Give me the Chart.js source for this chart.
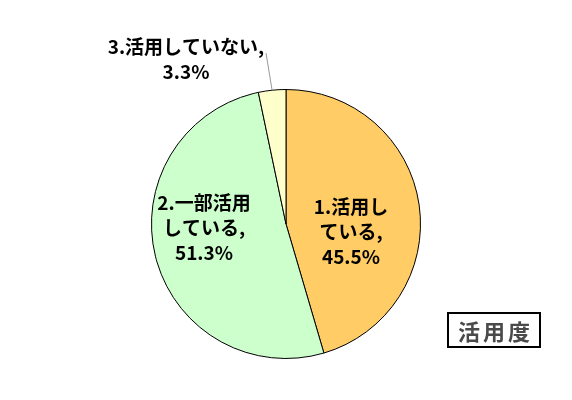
<!DOCTYPE html>
<html>
<head>
<meta charset="utf-8">
<script src="https://cdn.jsdelivr.net/npm/chart.js@4"></script>
<style>
  html, body { margin: 0; padding: 0; background: #fff; }
  #wrap { position: relative; width: 572px; height: 400px; }
  #title {
    position: absolute; left: 447px; top: 312px; width: 90px; height: 32px;
    border: 2px solid #000; box-sizing: content-box;
    font: bold 22px "Noto Sans CJK JP", sans-serif; color: #4a4a4a;
    letter-spacing: 3px; text-indent: 3px;
    text-align: center; line-height: 32px;
  }
</style>
</head>
<body>
<div id="wrap">
  <canvas id="usageChart" width="572" height="400"></canvas>
  <div id="title">活用度</div>
</div>
<script>
const labels = ['1.活用している', '2.一部活用している', '3.活用していない'];
const values = [45.5, 51.3, 3.3];
const colors = ['#ffcc66', '#ccffcc', '#ffffcc'];

// label text lines per slice (as shown in the picture)
const labelLines = [
    ['1.活用し', 'ている,', '45.5%'],
    ['2.一部活用', 'している,', '51.3%'],
    ['3.活用していない,', '3.3%'],
];

// where each label sits, relative to the pie centre
const labelSpots = [
    { dx: 65, dy: -17 },
    { dx: -82, dy: -21 },
    { dx: -100, dy: -177, leader: true },
];

const sliceLabels = {
    id: 'sliceLabels',
    afterDatasetsDraw(chart) {
        const ctx = chart.ctx;
        const meta = chart.getDatasetMeta(0);
        ctx.save();
        ctx.font = 'bold 19px "Noto Sans CJK JP", sans-serif';
        ctx.fillStyle = '#000';
        ctx.textAlign = 'center';
        ctx.textBaseline = 'middle';
        meta.data.forEach((arc, i) => {
            const spot = labelSpots[i];
            const x = arc.x + spot.dx;
            const y = arc.y + spot.dy;
            if (spot.leader) {
                const mid = (arc.startAngle + arc.endAngle) / 2;
                ctx.strokeStyle = '#999';
                ctx.lineWidth = 1;
                ctx.beginPath();
                ctx.moveTo(arc.x + Math.cos(mid) * arc.outerRadius, arc.y + Math.sin(mid) * arc.outerRadius);
                ctx.lineTo(x + 80, y + 6);
                ctx.stroke();
            }
            labelLines[i].forEach((line, j) => {
                ctx.fillText(line, x, y + j * 25);
            });
        });
        ctx.restore();
    },
};

new Chart(document.getElementById('usageChart'), {
    type: 'pie',
    data: {
        labels,
        datasets: [{
            data: values,
            backgroundColor: colors,
            borderColor: '#000',
            borderWidth: 1,
            hoverOffset: 0,
        }],
    },
    options: {
        responsive: false,
        animation: false,
        layout: { padding: { top: 89, bottom: 41, left: 0, right: 0 } },
        plugins: {
            legend: { display: false },
            tooltip: { enabled: false },
        },
    },
    plugins: [sliceLabels],
});
</script>
</body>
</html>
